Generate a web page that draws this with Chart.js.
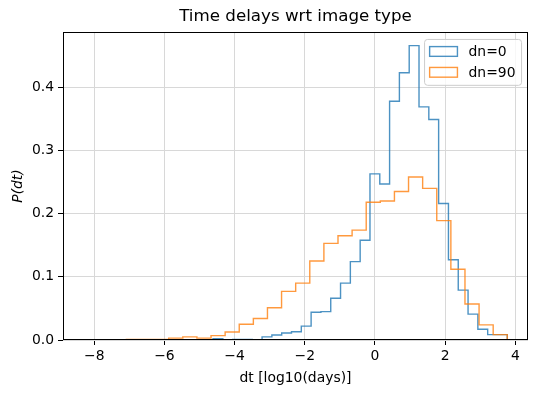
<!DOCTYPE html>
<html>
<head>
<meta charset="utf-8">
<script src="https://cdn.jsdelivr.net/npm/chart.js@4.4.1/dist/chart.umd.min.js"></script>
<style>
  html, body { margin: 0; padding: 0; background: #fff; }
  canvas { display: block; }
</style>
</head>
<body>
<canvas id="c" width="538" height="393"></canvas>
<script>
// ------- data -------
const dn0Range = [-4.615, 3.77];   // first / last bin edge, 30 bins
const dn0Density = [0.002, 0, 0.001, 0.001, 0, 0.005, 0.008, 0.011, 0.013, 0.022,
                    0.044, 0.045, 0.066, 0.090, 0.124, 0.158, 0.263, 0.247, 0.378, 0.423,
                    0.466, 0.369, 0.349, 0.216, 0.127, 0.079, 0.041, 0.017, 0.0085, 0.0085];
const dn90Range = [-8.29, 3.77];
const dn90Density = [0.0005, 0, 0, 0.001, 0.001, 0.001, 0.003, 0.005, 0.003, 0.007,
                     0.0127, 0.025, 0.034, 0.051, 0.077, 0.090, 0.125, 0.153, 0.165, 0.174,
                     0.218, 0.220, 0.235, 0.258, 0.240, 0.189, 0.112, 0.057, 0.024, 0.0085];
const seriesLabels = ['dn=0', 'dn=90'];
const xTicks = [-8, -6, -4, -2, 0, 2, 4];
const yTicks = [0, 0.1, 0.2, 0.3, 0.4];
const xLimits = [-8.89, 4.36];
const yLimits = [0, 0.4876];

const FONT = '"DejaVu Sans", "Liberation Sans", sans-serif';
const FS = 13.9;
const BLUE = 'rgba(31,119,180,0.8)';
const ORANGE = 'rgba(255,127,14,0.8)';

// step outline like histtype='step'
function stepPoints(range, dens) {
  const w = (range[1] - range[0]) / dens.length;
  const pts = [{ x: range[0], y: 0 }];
  dens.forEach((d, i) => {
    pts.push({ x: range[0] + i * w, y: d }, { x: range[0] + (i + 1) * w, y: d });
  });
  pts.push({ x: range[1], y: 0 });
  return pts;
}
const minus = v => (v < 0 ? '\u2212' + Math.abs(v) : String(v));

// title centred over the axes, frame, legend box
const extras = {
  id: 'extras',
  afterDatasetsDraw(chart) {
    const { ctx, chartArea: a } = chart;
    ctx.save();
    ctx.font = `${FS}px ${FONT}`;
    const items = [[seriesLabels[0], BLUE], [seriesLabels[1], ORANGE]];
    const textW = Math.max(...items.map(i => ctx.measureText(i[0]).width));
    const pad = 0.4 * FS, handle = 2 * FS, gap = 0.8 * FS, rowH = FS, spacing = 0.5 * FS;
    const w = pad * 2 + handle + gap + textW;
    const h = pad * 2 + items.length * rowH + (items.length - 1) * spacing;
    const x = a.right - 0.5 * FS - w, y = a.top + 0.5 * FS;
    ctx.beginPath();
    ctx.roundRect(x + 0.5, y + 0.5, w, h, 3);
    ctx.fillStyle = 'rgba(255,255,255,0.8)';
    ctx.fill();
    ctx.strokeStyle = '#cccccc';
    ctx.lineWidth = 1;
    ctx.stroke();
    items.forEach(([label, col], i) => {
      const cy = y + pad + rowH / 2 + i * (rowH + spacing);
      ctx.strokeStyle = col;
      ctx.lineWidth = 1.4;
      ctx.strokeRect(x + pad, cy - 0.35 * FS, handle, 0.7 * FS);
      ctx.fillStyle = '#000';
      ctx.textBaseline = 'middle';
      ctx.textAlign = 'left';
      ctx.fillText(label, x + pad + handle + gap, cy + 1);
    });
    ctx.restore();
  },
  afterDraw(chart) {
    const { ctx, chartArea: a } = chart;
    ctx.save();
    ctx.strokeStyle = '#000';
    ctx.lineWidth = 1;
    ctx.strokeRect(Math.round(a.left) + 0.5, Math.round(a.top) + 0.5,
                   Math.round(a.right - a.left) - 1, Math.round(a.bottom - a.top) - 1);
    ctx.fillStyle = '#000';
    ctx.font = `16.7px ${FONT}`;
    ctx.textAlign = 'center';
    ctx.textBaseline = 'middle';
    ctx.fillText('Time delays wrt image type', (a.left + a.right) / 2, 17);
    ctx.restore();
  }
};

Chart.defaults.color = '#000';
Chart.defaults.font.family = FONT;
Chart.defaults.font.size = FS;

new Chart(document.getElementById('c'), {
  type: 'line',
  data: {
    datasets: [
      { label: seriesLabels[1], data: stepPoints(dn90Range, dn90Density), borderColor: ORANGE, order: 0 },
      { label: seriesLabels[0], data: stepPoints(dn0Range, dn0Density), borderColor: BLUE, order: 1 }
    ]
  },
  options: {
    responsive: false, animation: false,
    layout: { padding: { top: 32, right: 10, left: 0, bottom: 0 } },
    elements: {
      line: { borderWidth: 1.4, tension: 0, fill: false, backgroundColor: 'transparent' },
      point: { radius: 0, hoverRadius: 0 }
    },
    plugins: { legend: { display: false }, tooltip: { enabled: false }, title: { display: false } },
    scales: {
      x: {
        type: 'linear', min: xLimits[0], max: xLimits[1],
        afterBuildTicks: s => { s.ticks = xTicks.map(v => ({ value: v })); },
        afterFit: s => { s.height = 53; },
        ticks: { callback: v => minus(v), padding: 3, maxRotation: 0, autoSkip: false },
        grid: { color: '#d8d8d8', lineWidth: 1, tickColor: '#000', tickLength: 5 },
        border: { display: false },
        title: { display: true, text: 'dt [log10(days)]', padding: { top: 0, bottom: 6 } }
      },
      y: {
        type: 'linear', min: yLimits[0], max: yLimits[1],
        afterBuildTicks: s => { s.ticks = yTicks.map(v => ({ value: v })); },
        afterFit: s => { s.width = 63; },
        ticks: { callback: v => v.toFixed(1), padding: 4 },
        grid: { color: '#d8d8d8', lineWidth: 1, tickColor: '#000', tickLength: 5 },
        border: { display: false },
        title: { display: true, text: 'P(dt)', font: { style: 'italic' }, padding: { top: 10, bottom: 0 } }
      }
    }
  },
  plugins: [extras]
});
</script>
</body>
</html>
